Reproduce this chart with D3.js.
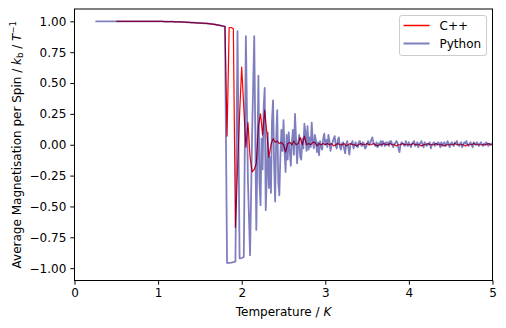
<!DOCTYPE html>
<html>
<head>
<meta charset="utf-8">
<script src="https://cdn.jsdelivr.net/npm/d3@7"></script>
<style>
  html, body { margin: 0; padding: 0; background: #fff; }
  svg text { font-family: "DejaVu Sans", sans-serif; }
</style>
</head>
<body>
<svg id="chart" width="506" height="328"></svg>
<script>
// ---------- data ----------
const xTicks = [0, 1, 2, 3, 4, 5];
const yTicks = [1.0, 0.75, 0.5, 0.25, 0.0, -0.25, -0.5, -0.75, -1.0];
const seriesNames = ["C++", "Python"];

// Python run, part 1: temperatures 0.25 .. 2.2, spaced 0.025
const pyCoarseStart = 0.25, pyCoarseStep = 0.025;
const pyCoarseValues = [
  // 0.25 - 1.0
  1.0,1.0,1.0,1.0,1.0,1.0,1.0,1.0,1.0,1.0,
  1.0,1.0,1.0,1.0,1.0,1.0,1.0,1.0,1.0,1.0,
  1.0,1.0,1.0,1.0,1.0,0.999,0.999,0.999,0.999,0.999,0.999,
  // 1.025 - 1.5
  0.999,0.999,0.998,0.998,0.998,0.997,0.997,0.996,0.996,0.995,
  0.995,0.994,0.993,0.992,0.991,0.990,0.989,0.988,0.987,0.986,
  // 1.525 - 1.8
  0.985,0.984,0.983,0.981,0.979,0.977,0.975,0.972,0.969,0.966,0.962,0.957,
  // 1.825 - 2.2
  -0.958,-0.957,-0.955,-0.952,-0.945,0.92,-0.92,-0.918,-0.91,0.88,
  -0.30,-0.895,0.10,0.88,-0.69,0.56
];
// Python run, part 2: temperatures 2.2125 .. 5.0, spaced 0.0125
const pyFineStart = 2.2125, pyFineStep = 0.0125;
const pyFineValues = [
  -0.30,-0.49,0.05,-0.20,0.30,0.46,-0.53,-0.25,
  0.10,-0.35,-0.10,-0.39,0.20,0.36,-0.15,-0.46,
  0.05,0.28,-0.30,-0.41,-0.10,0.12,-0.05,0.20,
  -0.05,-0.22,0.08,-0.12,0.10,-0.05,-0.17,0.02,
  0.12,-0.08,0.25,0.05,-0.15,0.00,0.08,-0.10,
  -0.12,0.05,-0.03,0.17,0.10,-0.05,0.15,-0.04,
  0.06,-0.02,0.18,0.03,-0.03,0.08,0.04,-0.06,
  0.02,-0.085,0.03,-0.02,-0.04,0.05,0.09,0.00,
  0.04,-0.02,0.08,0.03,-0.05,0.00,0.02,0.05,
  0.07,-0.01,-0.03,0.04,0.06,-0.02,-0.04,0.01,
  0.02,-0.03,-0.07,0.01,0.03,-0.02,-0.08,0.00,
  0.01,0.03,-0.03,0.00,0.02,-0.01,-0.02,0.02,
  0.03,0.00,-0.01,0.02,0.01,-0.03,-0.02,0.01,
  0.03,0.00,0.01,0.04,0.06,0.02,0.00,-0.01,
  0.02,-0.02,0.01,0.00,0.03,-0.01,0.03,0.01,
  -0.01,0.02,0.00,0.02,-0.01,0.03,0.03,0.00,
  -0.02,0.01,0.01,0.03,0.02,-0.03,-0.06,0.00,
  0.02,0.01,0.00,-0.01,0.03,0.01,-0.01,0.02,
  0.00,-0.02,0.01,0.02,0.03,-0.01,0.00,0.02,
  -0.02,0.01,0.01,0.03,0.00,-0.02,0.02,0.01,
  -0.01,0.00,0.01,0.02,-0.03,0.00,0.01,0.02,
  -0.01,0.01,0.00,0.02,0.01,-0.02,0.02,-0.01,
  0.01,0.02,-0.01,0.00,0.03,0.01,-0.02,0.01,
  0.02,0.00,-0.01,0.02,0.01,0.03,0.00,-0.01,
  0.01,0.02,-0.02,0.00,0.02,0.01,0.03,0.00,
  -0.01,0.01,0.02,0.00,-0.02,0.02,0.01,0.00,
  0.02,0.01,-0.01,0.01,0.02,0.00,-0.01,0.01,
  0.00,0.02,0.01,-0.01,0.01,0.00,0.01,0.00
];

// C++ run: temperatures start at 0.5, spaced 0.025
const cppStart = 0.5, cppStep = 0.025;
const cppValues = [
  // 0.5 - 1.0
  1.0,1.0,1.0,1.0,1.0,1.0,1.0,1.0,1.0,1.0,
  1.0,1.0,1.0,1.0,1.0,0.999,0.999,0.999,0.999,0.999,0.999,
  // 1.025 - 1.5
  0.999,0.999,0.998,0.998,0.998,0.997,0.997,0.996,0.996,0.995,
  0.995,0.994,0.993,0.992,0.991,0.990,0.989,0.988,0.987,0.986,
  // 1.525 - 1.8
  0.985,0.984,0.983,0.981,0.979,0.977,0.975,0.972,0.969,0.966,0.962,0.957,
  // 1.825 - 2.5
  0.07,0.95,0.95,0.94,-0.67,-0.20,0.25,0.63,0.30,-0.02,
  0.18,-0.10,-0.22,-0.20,-0.15,0.15,0.25,0.08,0.28,0.10,
  -0.10,0.0,0.05,0.02,0.03,0.01,0.02,0.0,
  // 2.525 - 3.0
  -0.06,0.01,0.02,0.0,0.03,0.0,0.01,0.06,0.0,0.07,
  0.0,0.01,0.0,0.02,0.02,-0.01,0.01,0.0,0.01,0.0,
  // 3.025 - 3.5
  0.01,0.0,0.01,-0.01,0.0,0.01,0.0,0.0,0.01,-0.01,
  0.0,0.01,0.0,0.0,-0.01,0.0,0.01,0.0,0.0,0.01,
  // 3.525 - 4.0
  0.0,0.0,0.01,0.0,-0.01,0.0,0.0,0.01,0.0,0.0,
  0.01,0.0,0.0,-0.01,0.0,0.0,0.01,0.0,0.0,0.0,
  // 4.025 - 4.5
  0.0,0.01,0.0,0.0,0.0,-0.01,0.0,0.0,0.01,0.0,
  0.0,0.0,0.01,0.0,0.0,0.0,-0.01,0.0,0.0,0.0,
  // 4.525 - 5.0
  0.0,0.01,0.0,0.0,0.0,0.0,-0.01,0.0,0.0,0.0,
  0.01,0.0,0.0,0.0,0.0,0.0,0.0,0.01,0.0,0.0
];

(function () {
const FS = 12;
const svg = d3.select("#chart");
const mL = 74.5, mR = 492.5, mT = 9, mB = 280.5;

const x = d3.scaleLinear().domain([0, 5]).range([mL, mR]);
const y = d3.scaleLinear().domain([-1.1, 1.1]).range([mB, mT]);

const pyData = pyCoarseValues.map((v, i) => [pyCoarseStart + i * pyCoarseStep, v])
  .concat(pyFineValues.map((v, i) => [pyFineStart + i * pyFineStep, v]));
const cppData = cppValues.map((v, i) => [cppStart + i * cppStep, v]);

svg.append("clipPath").attr("id", "clip")
  .append("rect").attr("x", mL).attr("y", mT)
  .attr("width", mR - mL).attr("height", mB - mT);

const line = d3.line().x(d => x(d[0])).y(d => y(d[1]));

const plot = svg.append("g").attr("clip-path", "url(#clip)");
plot.append("path").datum(cppData)
  .attr("d", line).attr("fill", "none")
  .attr("stroke", "#ff0000").attr("stroke-width", 1.2)
  .attr("stroke-linejoin", "round");
plot.append("path").datum(pyData)
  .attr("d", line).attr("fill", "none")
  .attr("stroke", "#000080").attr("stroke-opacity", 0.5)
  .attr("stroke-width", 1.8).attr("stroke-linejoin", "round");

// axes
const fmt = d => (d < 0 ? "\u2212" : "") + d3.format(".2f")(Math.abs(d));
const xAxis = svg.append("g").attr("transform", `translate(0,${mB})`)
  .call(d3.axisBottom(x).tickValues(xTicks).tickSize(4.2).tickPadding(4).tickFormat(d3.format("d")));
const yAxis = svg.append("g").attr("transform", `translate(${mL},0)`)
  .call(d3.axisLeft(y).tickValues(yTicks).tickSize(4.2).tickPadding(4).tickFormat(fmt));
[xAxis, yAxis].forEach(a => {
  a.select(".domain").remove();
  a.selectAll(".tick line").attr("stroke", "#000").attr("stroke-width", 1);
  a.selectAll(".tick text").attr("fill", "#000")
    .style("font-family", "DejaVu Sans").style("font-size", FS + "px");
});

// frame
svg.append("rect").attr("x", mL).attr("y", mT)
  .attr("width", mR - mL).attr("height", mB - mT)
  .attr("fill", "none").attr("stroke", "#000").attr("stroke-width", 1);

// axis labels
const xl = svg.append("text").attr("x", (mL + mR) / 2).attr("y", 316)
  .attr("text-anchor", "middle").style("font-size", FS + "px").attr("fill", "#000");
xl.append("tspan").text("Temperature / ");
xl.append("tspan").attr("font-style", "italic").text("K");

const yl = svg.append("text")
  .attr("transform", `translate(21,${(mT + mB) / 2}) rotate(-90)`)
  .attr("text-anchor", "middle").style("font-size", FS + "px").attr("fill", "#000");
yl.append("tspan").text("Average Magnetisation per Spin / ");
yl.append("tspan").attr("font-style", "italic").text("k");
yl.append("tspan").style("font-size", "8.5px").attr("dy", "2").text("b");
yl.append("tspan").attr("dy", "-2").text(" / ");
yl.append("tspan").attr("font-style", "italic").text("T");
yl.append("tspan").style("font-size", "8.5px").attr("dy", "-5").text("\u22121");

// legend
const lg = svg.append("g");
lg.append("rect").attr("x", 399.5).attr("y", 15.5).attr("width", 87).attr("height", 40)
  .attr("rx", 2.5).attr("fill", "#fff").attr("fill-opacity", 0.8)
  .attr("stroke", "#ccc").attr("stroke-width", 1);
const legendStyles = [
  { color: "#ff0000", opacity: 1, width: 1.5 },
  { color: "#000080", opacity: 0.5, width: 2 }
];
seriesNames.forEach((name, i) => {
  const yy = 25.5 + i * 18;
  lg.append("line").attr("x1", 403.5).attr("x2", 429.5).attr("y1", yy).attr("y2", yy)
    .attr("stroke", legendStyles[i].color).attr("stroke-opacity", legendStyles[i].opacity)
    .attr("stroke-width", legendStyles[i].width);
  lg.append("text").attr("x", 439.5).attr("y", yy + 4.3)
    .style("font-size", FS + "px").attr("fill", "#000").text(name);
});
})();
</script>
</body>
</html>
